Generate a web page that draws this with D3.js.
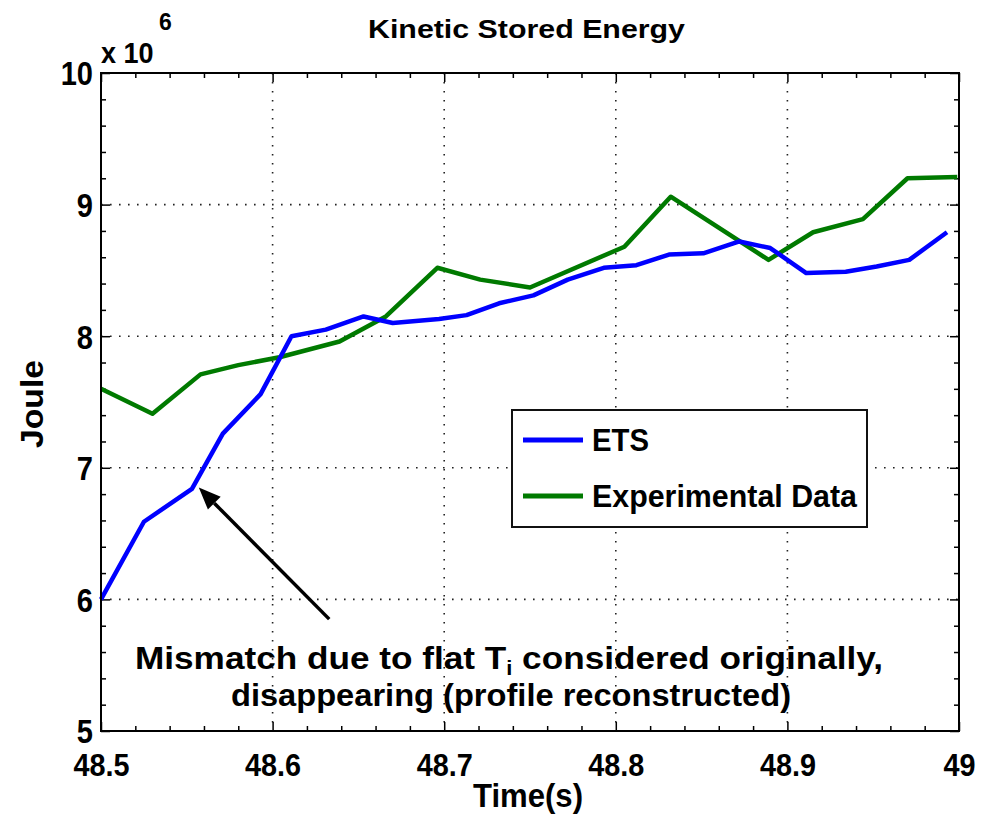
<!DOCTYPE html>
<html>
<head>
<meta charset="utf-8">
<script src="https://cdn.jsdelivr.net/npm/d3@7"></script>
<style>
  body { margin: 0; background: #fff; }
  text { font-family: "Liberation Sans", Arial, sans-serif; font-weight: bold; fill: #000; }
</style>
</head>
<body>
<div id="chart"></div>
<script>
// values
let etsTime = [48.500, 48.525, 48.553, 48.571, 48.593, 48.611, 48.631, 48.653, 48.670, 48.697, 48.713,
               48.732, 48.752, 48.772, 48.793, 48.812, 48.831, 48.851, 48.872, 48.890, 48.911, 48.934,
               48.952, 48.971, 48.993];
let etsEnergy = [6.00, 6.59, 6.84, 7.26, 7.56, 8.00, 8.05, 8.15, 8.10, 8.13, 8.16,
                 8.25, 8.31, 8.43, 8.52, 8.54, 8.62, 8.63, 8.72, 8.67, 8.48, 8.49,
                 8.53, 8.58, 8.79];
let expTime = [48.500, 48.530, 48.558, 48.580, 48.604, 48.639, 48.666, 48.696, 48.721, 48.750,
               48.805, 48.832, 48.889, 48.915, 48.944, 48.970, 48.999];
let expEnergy = [7.60, 7.41, 7.71, 7.78, 7.84, 7.96, 8.15, 8.52, 8.43, 8.37,
                 8.68, 9.06, 8.58, 8.79, 8.89, 9.20, 9.21];
let xTicks = [48.5, 48.6, 48.7, 48.8, 48.9, 49];
let xTickLabels = ["48.5", "48.6", "48.7", "48.8", "48.9", "49"];
let yTicks = [5, 6, 7, 8, 9, 10];
let yTickLabels = ["5", "6", "7", "8", "9", "10"];
let seriesNames = ["ETS", "Experimental Data"];
let seriesColors = ["#0000ff", "#007a00"];

//squeeze a text horizontally, like the narrow font of the original
function narrow(sel, k) {
    sel.each(function() {
        let len = this.getComputedTextLength();
        d3.select(this).attr("textLength", len * k).attr("lengthAdjust", "spacingAndGlyphs");
    });
}

function makeChart() {
    let svgWidth = 991;
    let svgHeight = 815;
    let margin = { top: 73, right: 32, bottom: 84, left: 101 };
    let w = svgWidth - margin.left - margin.right;
    let h = svgHeight - margin.top - margin.bottom;

    let svg = d3.select("#chart")
        .append("svg")
        .attr("width", svgWidth)
        .attr("height", svgHeight);
    let g = svg.append("g")
        .attr("transform", `translate(${margin.left}, ${margin.top})`);

    let x = d3.scaleLinear().domain([48.5, 49]).range([0, w]);
    let y = d3.scaleLinear().domain([5, 10]).range([h, 0]);

    //dotted grid
    let grid = g.append("g")
        .attr("stroke", "#222")
        .attr("stroke-width", 1.6)
        .attr("stroke-dasharray", "1.6,7.4");
    grid.selectAll(".gx")
        .data(xTicks.slice(1, -1))
        .enter().append("line")
        .attr("x1", d => x(d)).attr("x2", d => x(d))
        .attr("y1", 0).attr("y2", h);
    grid.selectAll(".gy")
        .data(yTicks.slice(1, -1))
        .enter().append("line")
        .attr("x1", 0).attr("x2", w)
        .attr("y1", d => y(d)).attr("y2", d => y(d));

    //ticks (inside, on all four sides)
    let minorX = x.ticks(25).filter(d => !xTicks.some(t => Math.abs(t - d) < 1e-6));
    let minorY = y.ticks(25).filter(d => !yTicks.some(t => Math.abs(t - d) < 1e-6));

    function tickAxis(axisFn, scale, vals, size, transform) {
        let a = g.append("g")
            .attr("transform", transform)
            .call(axisFn(scale).tickValues(vals).tickSizeInner(-size).tickSizeOuter(0).tickFormat(""));
        a.select(".domain").remove();
        a.selectAll("line").attr("stroke", "#000").attr("stroke-width", 1.5);
        return a;
    }
    tickAxis(d3.axisBottom, x, xTicks, 9, `translate(0,${h})`);
    tickAxis(d3.axisBottom, x, minorX, 5, `translate(0,${h})`);
    tickAxis(d3.axisTop, x, xTicks, 9, "translate(0,0)");
    tickAxis(d3.axisTop, x, minorX, 5, "translate(0,0)");
    tickAxis(d3.axisLeft, y, yTicks, 9, "translate(0,0)");
    tickAxis(d3.axisLeft, y, minorY, 5, "translate(0,0)");
    tickAxis(d3.axisRight, y, yTicks, 9, `translate(${w},0)`);
    tickAxis(d3.axisRight, y, minorY, 5, `translate(${w},0)`);

    //tick labels
    let xLab = g.append("g")
        .attr("transform", `translate(0,${h})`)
        .call(d3.axisBottom(x).tickValues(xTicks).tickSize(0).tickPadding(22)
            .tickFormat((d, i) => xTickLabels[i]));
    xLab.select(".domain").remove();
    xLab.selectAll("text").attr("font-size", "32px").attr("dy", "0.71em").attr("fill", "#000")
        .call(narrow, 0.9);

    let yLab = g.append("g")
        .call(d3.axisLeft(y).tickValues(yTicks).tickSize(0).tickPadding(8)
            .tickFormat((d, i) => yTickLabels[i]));
    yLab.select(".domain").remove();
    yLab.selectAll("text").attr("font-size", "33px").attr("dy", "0.36em").attr("fill", "#000")
        .call(narrow, 0.88);

    //lines
    let line = d3.line().x(d => x(d[0])).y(d => y(d[1]));
    let etsData = etsTime.map((t, i) => [t, etsEnergy[i]]);
    let expData = expTime.map((t, i) => [t, expEnergy[i]]);

    g.append("path")
        .datum(expData)
        .attr("d", line)
        .attr("fill", "none")
        .attr("stroke", seriesColors[1])
        .attr("stroke-width", 4.5)
        .attr("stroke-linejoin", "round");
    g.append("path")
        .datum(etsData)
        .attr("d", line)
        .attr("fill", "none")
        .attr("stroke", seriesColors[0])
        .attr("stroke-width", 4.5)
        .attr("stroke-linejoin", "round");

    //frame
    g.append("rect")
        .attr("width", w).attr("height", h)
        .attr("fill", "none")
        .attr("stroke", "#000")
        .attr("stroke-width", 2);

    //legend
    let legend = svg.append("g").attr("transform", "translate(512,410)");
    legend.append("rect")
        .attr("width", 355).attr("height", 117)
        .attr("fill", "#fff")
        .attr("stroke", "#111")
        .attr("stroke-width", 2);
    seriesNames.forEach(function(name, i) {
        let ly = 30 + i * 56;
        legend.append("line")
            .attr("x1", 11).attr("x2", 71)
            .attr("y1", ly).attr("y2", ly)
            .attr("stroke", seriesColors[i])
            .attr("stroke-width", 5);
        legend.append("text")
            .attr("x", 80).attr("y", ly + 11)
            .attr("font-size", "31px")
            .attr("textLength", i === 0 ? 57 : 265).attr("lengthAdjust", "spacingAndGlyphs")
            .text(name);
    });

    //arrow
    let tip = [x(48.557), y(6.85)];
    let tail = [x(48.633), y(5.85)];
    let ang = Math.atan2(tail[1] - tip[1], tail[0] - tip[0]);
    let headLen = 22, headW = 9;
    let bx = tip[0] + headLen * Math.cos(ang), by = tip[1] + headLen * Math.sin(ang);
    g.append("line")
        .attr("x1", tail[0]).attr("y1", tail[1])
        .attr("x2", bx).attr("y2", by)
        .attr("stroke", "#000").attr("stroke-width", 3.5);
    g.append("path")
        .attr("d", `M${tip[0]},${tip[1]}L${bx + headW * Math.sin(ang)},${by - headW * Math.cos(ang)}L${bx - headW * Math.sin(ang)},${by + headW * Math.cos(ang)}Z`)
        .attr("fill", "#000");

    //annotation
    let note1 = svg.append("text")
        .attr("x", 135).attr("y", 669)
        .attr("font-size", "32px")
        .attr("textLength", 748).attr("lengthAdjust", "spacingAndGlyphs");
    note1.append("tspan").text("Mismatch due to flat T");
    note1.append("tspan").attr("font-size", "20px").attr("dy", 6).text("i");
    note1.append("tspan").attr("dy", -6).text(" considered originally,");

    svg.append("text")
        .attr("x", 231).attr("y", 706)
        .attr("font-size", "32px")
        .attr("textLength", 560).attr("lengthAdjust", "spacingAndGlyphs")
        .text("disappearing (profile reconstructed)");

    //title and axis labels
    svg.append("text")
        .attr("x", 368).attr("y", 38)
        .attr("font-size", "25px")
        .attr("textLength", 317).attr("lengthAdjust", "spacingAndGlyphs")
        .text("Kinetic Stored Energy");

    svg.append("text")
        .attr("x", 473).attr("y", 807)
        .attr("font-size", "33px")
        .attr("textLength", 110).attr("lengthAdjust", "spacingAndGlyphs")
        .text("Time(s)");

    svg.append("text")
        .attr("transform", "translate(43,448) rotate(-90)")
        .attr("font-size", "31px")
        .attr("textLength", 88).attr("lengthAdjust", "spacingAndGlyphs")
        .text("Joule");

    let expo = svg.append("text")
        .attr("x", 101).attr("y", 63)
        .attr("font-size", "30px")
        .text("x 10");
    expo.call(narrow, 0.9);
    svg.append("text")
        .attr("x", 159).attr("y", 30)
        .attr("font-size", "23px")
        .text("6");
}

makeChart();
</script>
</body>
</html>
